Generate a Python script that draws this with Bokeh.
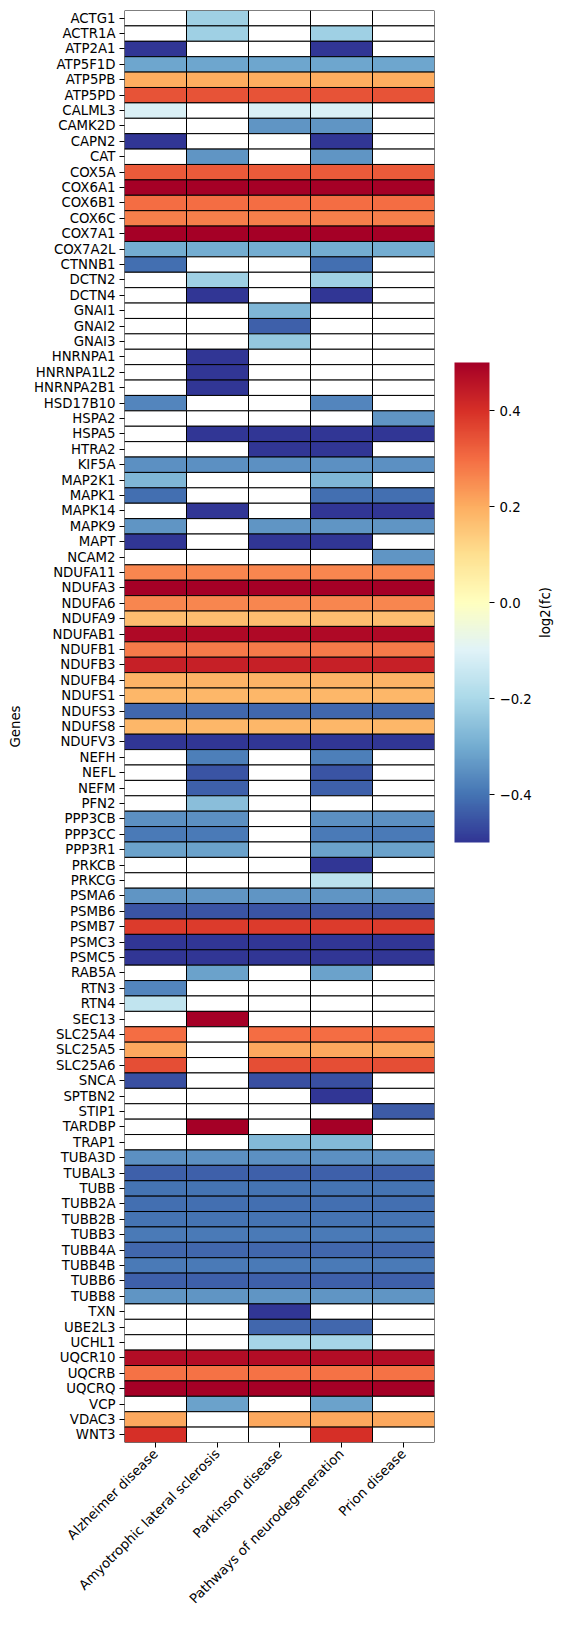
import numpy as np
from math import pi

from bokeh.plotting import figure
from bokeh.layouts import row
from bokeh.models import (ColumnDataSource, LinearColorMapper, ColorBar,
                          FixedTicker, Range1d, Label, CustomJSTickFormatter)
from bokeh.embed import file_html
from bokeh.resources import INLINE

# ---- data -------------------------------------------------------------
diseases = ["Alzheimer disease", "Amyotrophic lateral sclerosis",
            "Parkinson disease", "Pathways of neurodegeneration",
            "Prion disease"]

genes = ["ACTG1", "ACTR1A", "ATP2A1", "ATP5F1D", "ATP5PB", "ATP5PD", "CALML3",
         "CAMK2D", "CAPN2", "CAT", "COX5A", "COX6A1", "COX6B1", "COX6C",
         "COX7A1", "COX7A2L", "CTNNB1", "DCTN2", "DCTN4", "GNAI1", "GNAI2",
         "GNAI3", "HNRNPA1", "HNRNPA1L2", "HNRNPA2B1", "HSD17B10", "HSPA2",
         "HSPA5", "HTRA2", "KIF5A", "MAP2K1", "MAPK1", "MAPK14", "MAPK9",
         "MAPT", "NCAM2", "NDUFA11", "NDUFA3", "NDUFA6", "NDUFA9", "NDUFAB1",
         "NDUFB1", "NDUFB3", "NDUFB4", "NDUFS1", "NDUFS3", "NDUFS8", "NDUFV3",
         "NEFH", "NEFL", "NEFM", "PFN2", "PPP3CB", "PPP3CC", "PPP3R1", "PRKCB",
         "PRKCG", "PSMA6", "PSMB6", "PSMB7", "PSMC3", "PSMC5", "RAB5A", "RTN3",
         "RTN4", "SEC13", "SLC25A4", "SLC25A5", "SLC25A6", "SNCA", "SPTBN2",
         "STIP1", "TARDBP", "TRAP1", "TUBA3D", "TUBAL3", "TUBB", "TUBB2A",
         "TUBB2B", "TUBB3", "TUBB4A", "TUBB4B", "TUBB6", "TUBB8", "TXN",
         "UBE2L3", "UCHL1", "UQCR10", "UQCRB", "UQCRQ", "VCP", "VDAC3", "WNT3"]

# log2 fold change of each gene
log2fc = [-0.22, -0.22, -0.50, -0.31, 0.20, 0.34, -0.11,
          -0.34, -0.50, -0.34, 0.33, 0.50, 0.30, 0.27,
          0.50, -0.30, -0.41, -0.22, -0.50, -0.28, -0.43,
          -0.24, -0.50, -0.50, -0.50, -0.37, -0.34,
          -0.50, -0.50, -0.35, -0.28, -0.41, -0.50, -0.34,
          -0.50, -0.34, 0.26, 0.50, 0.26, 0.17, 0.48,
          0.28, 0.43, 0.19, 0.18, -0.42, 0.18, -0.50,
          -0.38, -0.45, -0.43, -0.26, -0.35, -0.39, -0.32, -0.50,
          -0.17, -0.34, -0.45, 0.38, -0.50, -0.50, -0.32, -0.37,
          -0.16, 0.50, 0.30, 0.21, 0.35, -0.46, -0.50,
          -0.44, 0.50, -0.27, -0.35, -0.43, -0.40, -0.41,
          -0.40, -0.39, -0.42, -0.39, -0.43, -0.34, -0.50,
          -0.42, -0.21, 0.47, 0.29, 0.50, -0.32, 0.21, 0.40]

# pathway membership, one flag per disease column
membership = ["01000", "01010", "10010", "11111", "11111", "11111", "10110",
              "00110", "10010", "01010", "11111", "11111", "11111", "11111",
              "11111", "11111", "10010", "01010", "01010", "00100", "00100",
              "00100", "01000", "01000", "01000", "10010", "00001",
              "01111", "00110", "11111", "10010", "10011", "01011", "10111",
              "10110", "00001", "11111", "11111", "11111", "11111", "11111",
              "11111", "11111", "11111", "11111", "11111", "11111", "11111",
              "01010", "01010", "01010", "01000", "11011", "11011", "11011", "00010",
              "00010", "11111", "11111", "11111", "11111", "11111", "01010", "10000",
              "10000", "01000", "10111", "10111", "10111", "10110", "00010",
              "00001", "01010", "00110", "11111", "11111", "11111", "11111",
              "11111", "11111", "11111", "11111", "11111", "11111", "00100",
              "00110", "00110", "11111", "11111", "11111", "01010", "10111", "10010"]

# ---- colour map (RdYlBu reversed) --------------------------------------
anchors = ["#313695", "#4575b4", "#74add1", "#abd9e9", "#e0f3f8", "#ffffbf",
           "#fee090", "#fdae61", "#f46d43", "#d73027", "#a50026"]
rgb = np.array([[int(h[i:i + 2], 16) for i in (1, 3, 5)] for h in anchors], float)
pos = np.linspace(0, 1, len(anchors))
t = np.linspace(0, 1, 256)
interp = np.stack([np.interp(t, pos, rgb[:, k]) for k in range(3)], axis=1)
palette = ["#%02x%02x%02x" % tuple(int(round(c)) for c in row_) for row_ in interp]

mapper = LinearColorMapper(palette=palette, low=-0.5, high=0.5, nan_color="white")

# ---- cells ---------------------------------------------------------------
xs, ys, vals = [], [], []
for r, (g, v, m) in enumerate(zip(genes, log2fc, membership)):
    for c in range(len(diseases)):
        xs.append(c + 0.5)
        ys.append(r + 0.5)
        vals.append(v if m[c] == "1" else np.nan)

src = ColumnDataSource(dict(x=xs, y=ys, v=np.array(vals, dtype=float)))

n_rows = len(genes)
n_cols = len(diseases)

FONT = "DejaVu Sans"
FS = "13.3px"
TXT = "black"

p = figure(frame_width=310, frame_height=1432,
           x_range=Range1d(0, n_cols), y_range=Range1d(n_rows, 0),
           min_border_left=124, min_border_top=10, min_border_bottom=186,
           min_border_right=100,
           output_backend="svg", toolbar_location=None, tools="")

p.rect(x="x", y="y", width=1, height=1, source=src,
       fill_color={"field": "v", "transform": mapper},
       line_color="black", line_width=1)

p.xgrid.visible = False
p.ygrid.visible = False
p.outline_line_color = None

p.yaxis.ticker = FixedTicker(ticks=[i + 0.5 for i in range(n_rows)])
p.yaxis.major_label_overrides = {i + 0.5: g for i, g in enumerate(genes)}
p.xaxis.ticker = FixedTicker(ticks=[i + 0.5 for i in range(n_cols)])
p.xaxis.major_label_overrides = {i + 0.5: d for i, d in enumerate(diseases)}
p.xaxis.major_label_orientation = pi / 4

for ax in (p.xaxis[0], p.yaxis[0]):
    ax.axis_line_color = None
    ax.major_tick_in = 0
    ax.major_tick_out = 5
    ax.minor_tick_line_color = None
    ax.major_tick_line_color = "black"
    ax.major_label_text_font = FONT
    ax.major_label_text_font_size = FS
    ax.major_label_text_color = TXT
    ax.major_label_standoff = 4

p.yaxis.axis_label = "Genes"
p.yaxis.axis_label_text_font = FONT
p.yaxis.axis_label_text_font_size = FS
p.yaxis.axis_label_text_font_style = "normal"
p.yaxis.axis_label_text_color = TXT
p.yaxis.axis_label_standoff = 8

cbar = ColorBar(color_mapper=mapper, width=35, height=480,
                location=(20, 600), padding=0, margin=0,
                ticker=FixedTicker(ticks=[-0.4, -0.2, 0.0, 0.2, 0.4]),
                formatter=CustomJSTickFormatter(
                    code="return tick.toFixed(1).replace('-', '\u2212')"),
                major_tick_in=0, major_tick_out=5,
                major_tick_line_color="black",
                major_label_text_font=FONT,
                major_label_text_font_size=FS,
                major_label_text_color=TXT,
                bar_line_color=None, border_line_color=None,
                background_fill_color=None)
p.add_layout(cbar, "right")

# narrow strip to the right carrying the colour bar caption
total_h = 10 + 1432 + 186
cap = figure(frame_width=28, frame_height=total_h,
             x_range=Range1d(0, 28), y_range=Range1d(total_h, 0),
             min_border=0, x_axis_location=None, y_axis_location=None,
             output_backend="svg", toolbar_location=None, tools="")
cap.xgrid.visible = False
cap.ygrid.visible = False
cap.outline_line_color = None
cap.add_layout(Label(x=11, y=602, text="log2(fc)", angle=pi / 2,
                     text_align="center", text_baseline="middle",
                     text_font=FONT, text_font_size=FS, text_color=TXT))

layout = row(p, cap, spacing=0)

open("out.html", "w").write(file_html(layout, INLINE))
